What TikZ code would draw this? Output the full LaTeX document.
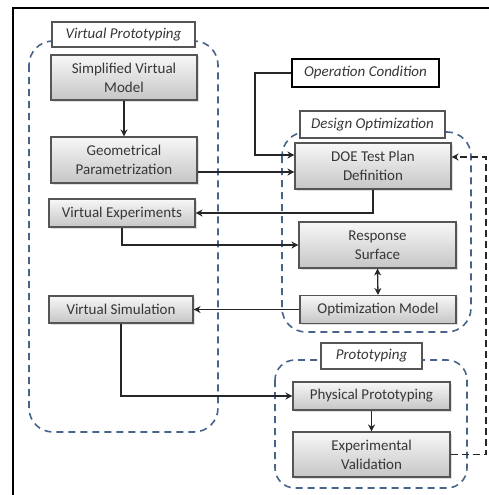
\documentclass[tikz,border=0pt]{standalone}
\usepackage{fontspec}
\setmainfont{Carlito}
\usetikzlibrary{arrows.meta,shadows}
\definecolor{grp}{RGB}{72,100,138}
\definecolor{txt}{RGB}{55,55,55}
\definecolor{bord}{RGB}{85,85,85}
\tikzset{
  procbox/.style={draw=bord, line width=1.1pt, top color=gray!6, bottom color=gray!45,
    text=txt, align=center, font=\fontsize{15}{19}\selectfont, inner sep=0pt,
    drop shadow={shadow xshift=1.5pt, shadow yshift=-1.5pt, opacity=0.25}},
  labbox/.style={draw=bord, line width=1.1pt, fill=white, text=txt, align=center,
    font=\fontsize{15}{19}\selectfont\itshape, inner sep=0pt},
  grpbox/.style={draw=grp, line width=1.6pt, dash pattern=on 7pt off 5pt, rounded corners=24pt},
  conn/.style={draw=black!85, line width=1.3pt, -{Stealth[length=7pt,width=7pt]}},
}
\begin{document}
\begin{tikzpicture}[x=1pt,y=-1pt]
\useasboundingbox (0,0) rectangle (488,495);
% frame
\draw[line width=2pt] (13,500) -- (13,8) -- (492,8);
% groups
\draw[grpbox] (29,41) rectangle (218,432);
\draw[grpbox] (282,132) rectangle (471,332);
\draw[grpbox, rounded corners=20pt] (275,360) rectangle (467,488);
% labels
\node[labbox, minimum width=143pt, minimum height=25pt] (vplab) at (123.5,34.5) {Virtual Prototyping};
\node[labbox, minimum width=145pt, minimum height=27pt] (dolab) at (372.5,124.5) {Design Optimization};
\node[labbox, minimum width=101pt, minimum height=26pt] (plab) at (371.5,356) {Prototyping};
\node[labbox, draw=black, minimum width=147pt, minimum height=28pt] (oc) at (365.5,73) {Operation Condition};
% process boxes
\node[procbox, minimum width=146pt, minimum height=45pt] (svm) at (124,77.5) {Simplified Virtual\\Model};
\node[procbox, minimum width=146pt, minimum height=46pt] (gp) at (124,160) {Geometrical\\Parametrization};
\node[procbox, minimum width=146pt, minimum height=28pt] (ve) at (122,213) {Virtual Experiments};
\node[procbox, minimum width=144pt, minimum height=27pt] (vs) at (121,309.5) {Virtual Simulation};
\node[procbox, minimum width=156pt, minimum height=46pt] (doe) at (373,166) {DOE Test Plan\\Definition};
\node[procbox, minimum width=157pt, minimum height=46pt] (rs) at (377.5,245) {Response\\Surface};
\node[procbox, minimum width=156pt, minimum height=28pt] (om) at (378,309.5) {Optimization Model};
\node[procbox, minimum width=157pt, minimum height=28pt] (pp) at (371.5,396) {Physical Prototyping};
\node[procbox, minimum width=157pt, minimum height=45pt] (ev) at (371.5,454.5) {Experimental\\Validation};
% helper coordinates
\coordinate (c1) at (255,155);
\coordinate (c2) at (0,172);
\coordinate (fb1) at (486,454.5);
\coordinate (fb2) at (486,157);
% connectors
\draw[conn] (svm.south) -- (gp.north);
\draw[conn] (oc.west) -| (c1) -- (c1 -| doe.west);
\draw[conn] (gp.east |- c2) -- (doe.west |- c2);
\draw[conn] (doe.south) |- (ve.east);
\draw[conn] (ve.south) |- (rs.west);
\draw[conn, {Stealth[length=7pt,width=7pt]}-{Stealth[length=7pt,width=7pt]}] (rs.south) -- (om.north);
\draw[conn] (om.west) -- (vs.east);
\draw[conn] (vs.south) |- (pp.west);
\draw[conn] (pp.south) -- (ev.north);
\draw[conn, dash pattern=on 7pt off 4pt] (ev.east) -- (fb1) -- (fb2) -- (fb2 -| doe.east);
\end{tikzpicture}
\end{document}
